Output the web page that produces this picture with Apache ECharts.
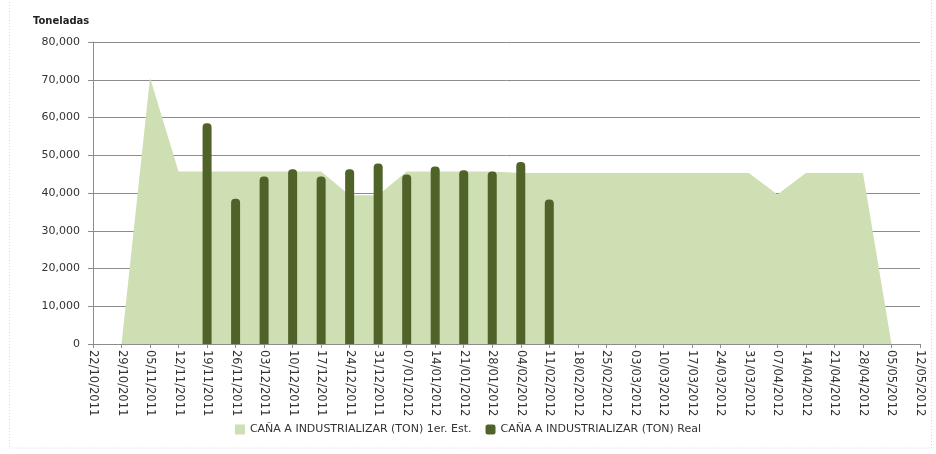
<!DOCTYPE html>
<html>
<head>
<meta charset="utf-8">
<script src="https://cdn.jsdelivr.net/npm/echarts@6/dist/echarts.min.js"></script>
<style>
html,body{margin:0;padding:0;background:#fff;}
#c{width:936px;height:454px;}
</style>
</head>
<body>
<div id="c"></div>
<script>
const categories = ['22/10/2011','29/10/2011','05/11/2011','12/11/2011','19/11/2011','26/11/2011','03/12/2011','10/12/2011','17/12/2011','24/12/2011','31/12/2011','07/01/2012','14/01/2012','21/01/2012','28/01/2012','04/02/2012','11/02/2012','18/02/2012','25/02/2012','03/03/2012','10/03/2012','17/03/2012','24/03/2012','31/03/2012','07/04/2012','14/04/2012','21/04/2012','28/04/2012','05/05/2012','12/05/2012'];
const estimado = [null,0,70500,45700,45700,45700,45700,45700,45700,39400,39400,45700,45700,45700,45700,45300,45300,45300,45300,45300,45300,45300,45300,45300,39600,45300,45300,45300,0,null];
const real = [null,null,null,null,58500,38500,44400,46300,44400,46300,47800,44900,47000,46000,45700,48200,38300,null,null,null,null,null,null,null,null,null,null,null,null,null];
const yTicks = {min:0, max:80000, interval:10000};
const seriesNames = ['CAÑA A INDUSTRIALIZAR (TON) 1er. Est.','CAÑA A INDUSTRIALIZAR (TON) Real'];

const chart = echarts.init(document.getElementById('c'));
chart.setOption({
  animation:false,
  textStyle:{fontFamily:'DejaVu Sans'},
  title:{text:'Toneladas', left:28, top:11, textStyle:{fontSize:10, fontWeight:'bold', color:'#222', fontFamily:'DejaVu Sans'}},
  graphic:[{type:'rect', shape:{x:9.5,y:-5,width:922,height:453}, style:{fill:'none', stroke:'#d8d8d8', lineWidth:1, lineDash:[1,2]}, silent:true}],
  grid:{left:93, right:16, top:42, bottom:110, containLabel:false},
  legend:{
    bottom:14, left:'center', itemGap:14, itemWidth:10, itemHeight:10,
    textStyle:{fontSize:11, color:'#333', fontFamily:'DejaVu Sans'},
    data:[
      {name:seriesNames[0], icon:'rect', itemStyle:{color:'#cddfb3'}},
      {name:seriesNames[1], icon:'roundRect', itemStyle:{color:'#4f6228'}}
    ]
  },
  xAxis:{
    type:'category', data:categories, boundaryGap:false,
    axisLine:{lineStyle:{color:'#8c8c8c', width:1}},
    axisTick:{show:true, length:4, alignWithLabel:true, lineStyle:{color:'#8c8c8c'}},
    axisLabel:{rotate:-90, interval:0, margin:6, fontSize:11.5, color:'#333', fontFamily:'DejaVu Sans'},
    splitLine:{show:false}
  },
  yAxis:{
    type:'value', min:yTicks.min, max:yTicks.max, interval:yTicks.interval,
    axisLine:{show:true, lineStyle:{color:'#8c8c8c'}},
    axisTick:{show:true, length:5, lineStyle:{color:'#8c8c8c'}},
    axisLabel:{margin:13, fontSize:11, color:'#333', fontFamily:'DejaVu Sans',
      formatter:v=>v.toLocaleString('en-US')},
    splitLine:{lineStyle:{color:'#8c8c8c', width:1}}
  },
  series:[
    {name:seriesNames[0], type:'line', data:estimado, symbol:'none', connectNulls:false,
      lineStyle:{width:0, color:'#cddfb3'}, itemStyle:{color:'#cddfb3'},
      areaStyle:{color:'#cddfb3', opacity:1}, z:1},
    {name:seriesNames[1], type:'bar', data:real, barWidth:9,
      itemStyle:{color:'#4f6228', borderRadius:[4,4,0,0]}, z:3}
  ]
});
</script>
</body>
</html>
